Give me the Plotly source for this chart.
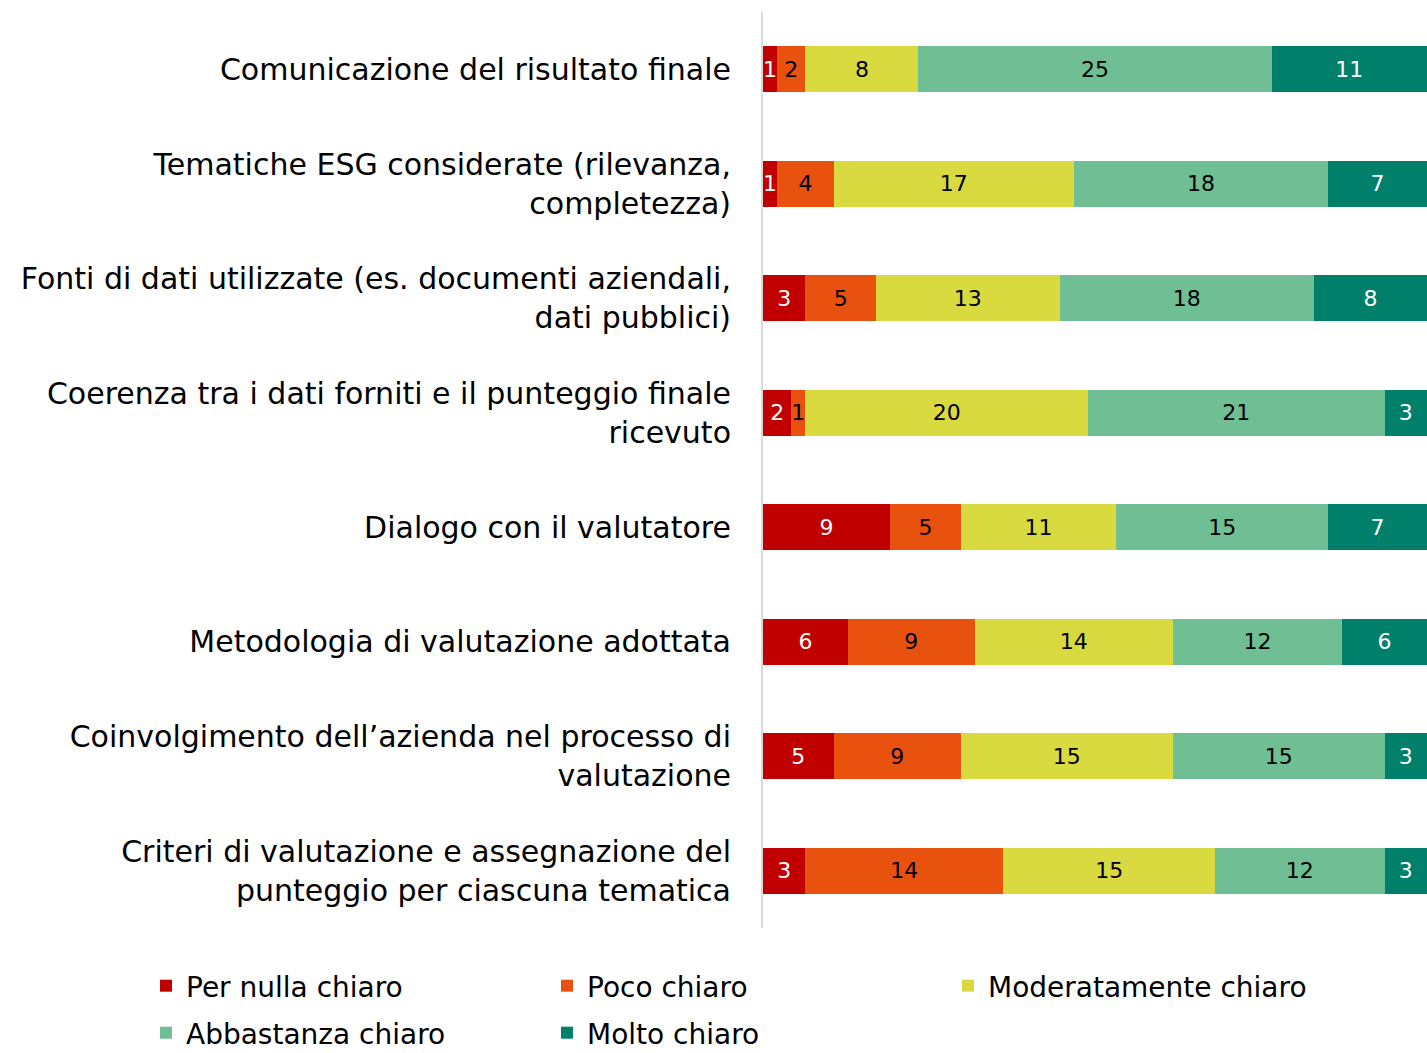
import plotly.graph_objects as go

categories = [
    "Comunicazione del risultato finale",
    "Tematiche ESG considerate (rilevanza,<br>completezza)",
    "Fonti di dati utilizzate (es. documenti aziendali,<br>dati pubblici)",
    "Coerenza tra i dati forniti e il punteggio finale<br>ricevuto",
    "Dialogo con il valutatore",
    "Metodologia di valutazione adottata",
    "Coinvolgimento dell\u2019azienda nel processo di<br>valutazione",
    "Criteri di valutazione e assegnazione del<br>punteggio per ciascuna tematica",
]
series_names = ["Per nulla chiaro", "Poco chiaro", "Moderatamente chiaro", "Abbastanza chiaro", "Molto chiaro"]
per_nulla = [1, 1, 3, 2, 9, 6, 5, 3]
poco = [2, 4, 5, 1, 5, 9, 9, 14]
moderatamente = [8, 17, 13, 20, 11, 14, 15, 15]
abbastanza = [25, 18, 18, 21, 15, 12, 15, 12]
molto = [11, 7, 8, 3, 7, 6, 3, 3]

values = [per_nulla, poco, moderatamente, abbastanza, molto]
colors = ["#C00000", "#E8510E", "#D9D940", "#70BE94", "#00806A"]
text_colors = ["white", "black", "black", "black", "white"]
legend_ids = ["legend", "legend", "legend", "legend2", "legend2"]

FONT = "DejaVu Sans"
W, H = 1427, 1053
PLOT_L, PLOT_T, PLOT_B = 763, 12, 928
PLOT_W = W - PLOT_L
PLOT_H = PLOT_B - PLOT_T

fig = go.Figure()
for name, vals, col, tc, lg in zip(series_names, values, colors, text_colors, legend_ids):
    fig.add_trace(go.Bar(
        y=categories, x=vals, name=name, orientation="h",
        marker=dict(color=col, line=dict(width=0)),
        text=[str(v) for v in vals], textposition="inside",
        insidetextanchor="middle", textangle=0,
        textfont=dict(color=tc, size=22, family=FONT),
        constraintext="none", legend=lg,
        hoverinfo="skip",
    ))

def px_x(px):
    return (px - PLOT_L) / PLOT_W

def px_y(py):
    return (PLOT_B - py) / PLOT_H

legend_common = dict(
    orientation="h", xanchor="left", yanchor="middle",
    entrywidth=356, entrywidthmode="pixels",
    font=dict(family=FONT, size=28, color="black"),
    traceorder="normal", bgcolor="rgba(0,0,0,0)", borderwidth=0,
)

fig.update_layout(
    barmode="stack",
    bargap=0.6,
    width=W, height=H,
    margin=dict(l=PLOT_L, r=0, t=PLOT_T, b=H - PLOT_B, autoexpand=False),
    plot_bgcolor="white", paper_bgcolor="white",
    font=dict(family=FONT, size=30, color="black"),
    uniformtext=dict(minsize=22, mode="show"),
    showlegend=True,
    legend=dict(x=px_x(146), y=px_y(986), **legend_common),
    legend2=dict(x=px_x(146), y=px_y(1033), **legend_common),
    xaxis=dict(range=[0, 47], visible=False, fixedrange=True),
    yaxis=dict(
        categoryorder="array", categoryarray=categories, autorange="reversed",
        showline=True, linecolor="#D9D9D9", linewidth=2,
        ticks="", ticklabelstandoff=24, showgrid=False, automargin=False,
        tickfont=dict(family=FONT, size=30, color="black"),
    ),
)

fig.write_html(
    "out.html",
    config={"displayModeBar": False},
    post_script="document.body.style.margin='0';document.body.style.overflow='hidden';",
)
